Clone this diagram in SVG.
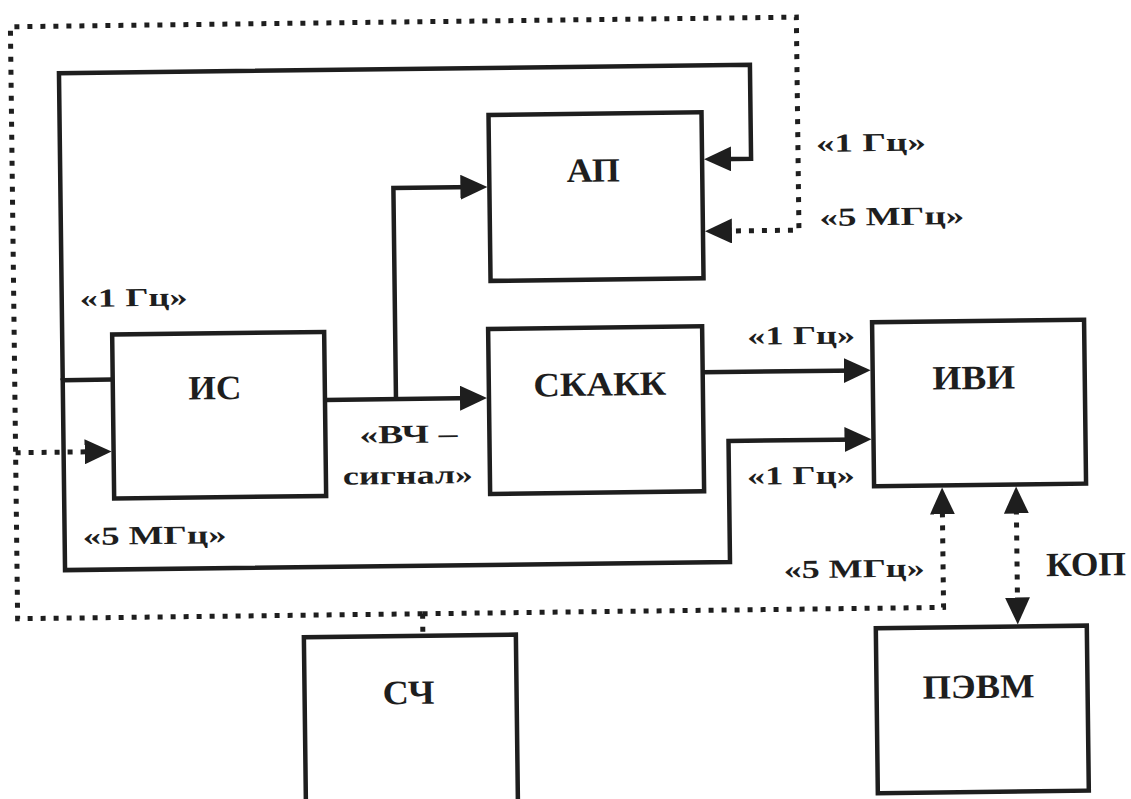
<svg xmlns="http://www.w3.org/2000/svg" width="1131" height="799" viewBox="0 0 1131 799">
<style>
.box{fill:#fff;stroke:#1e1e1e;stroke-width:4.5}
.sol{fill:none;stroke:#1e1e1e;stroke-width:4.5;stroke-linejoin:miter}
.dot{fill:none;stroke:#1e1e1e;stroke-width:5;stroke-dasharray:5 8}
.nl{font-family:"Liberation Serif","DejaVu Serif",serif;font-weight:bold;font-size:34px;fill:#1e1e1e;text-anchor:middle}
.lb{font-family:"Liberation Serif","DejaVu Serif",serif;font-weight:bold;font-size:26px;fill:#1e1e1e;text-anchor:middle}
</style>
<defs>
<marker id="ah" markerUnits="userSpaceOnUse" markerWidth="27" markerHeight="25" refX="17" refY="12.5" orient="auto-start-reverse">
<path d="M0,0 L27,12.5 L0,25 Z" fill="#1e1e1e" stroke="none"/>
</marker>
</defs>
<rect width="1131" height="799" fill="#fff"/>
<g transform="rotate(-0.7 565 400)">
<g id="connectors">
<path class="sol" d="M63,374 V67 H754 V161 H717" marker-end="url(#ah)"/>
<path class="sol" d="M63,372 V564 H728 V443 H861" marker-end="url(#ah)"/>
<path class="sol" d="M63,374 H113"/>
<path class="sol" d="M325,397 H477" marker-end="url(#ah)"/>
<path class="sol" d="M396,397 V186 H480" marker-end="url(#ah)"/>
<path class="sol" d="M703,374 H861" marker-end="url(#ah)"/>
<path class="dot" d="M420,612 H15 V20 H801 V233 H717" marker-end="url(#ah)"/>
<path class="dot" d="M15,446 H101" marker-end="url(#ah)"/>
<path class="dot" d="M420,612 H941 V502" marker-end="url(#ah)"/>
<path class="dot" d="M420,612 V634"/>
<path class="dot" d="M1015,502 V620" marker-start="url(#ah)" marker-end="url(#ah)"/>
</g>
<g id="node-ap"><rect class="box" x="492" y="114" width="213" height="166"/><text class="nl" x="596" y="182" textLength="53" lengthAdjust="spacingAndGlyphs">АП</text></g>
<g id="node-is"><rect class="box" x="113" y="329" width="212" height="164"/><text class="nl" x="215" y="395" textLength="53" lengthAdjust="spacingAndGlyphs">ИС</text></g>
<g id="node-skakk"><rect class="box" x="489" y="328" width="214" height="165"/><text class="nl" x="600" y="396" textLength="133" lengthAdjust="spacingAndGlyphs">СКАКК</text></g>
<g id="node-ivi"><rect class="box" x="873" y="326" width="212" height="164"/><text class="nl" x="974" y="394" textLength="83" lengthAdjust="spacingAndGlyphs">ИВИ</text></g>
<g id="node-sch"><rect class="box" x="301" y="634" width="212" height="200"/><text class="nl" x="405" y="702" textLength="52" lengthAdjust="spacingAndGlyphs">СЧ</text></g>
<g id="node-pevm"><rect class="box" x="873" y="632" width="211" height="165"/><text class="nl" x="975" y="703" textLength="112" lengthAdjust="spacingAndGlyphs">ПЭВМ</text></g>
<g id="labels">
<text class="lb" x="135" y="301" textLength="108" lengthAdjust="spacingAndGlyphs">«1 Гц»</text>
<text class="lb" x="153" y="539" textLength="144" lengthAdjust="spacingAndGlyphs">«5 МГц»</text>
<text class="lb" x="408" y="441" textLength="98" lengthAdjust="spacingAndGlyphs">«ВЧ –</text>
<text class="lb" x="407" y="482" textLength="130" lengthAdjust="spacingAndGlyphs">сигнал»</text>
<text class="lb" x="874" y="155" textLength="110" lengthAdjust="spacingAndGlyphs">«1 Гц»</text>
<text class="lb" x="894" y="229" textLength="145" lengthAdjust="spacingAndGlyphs">«5 МГц»</text>
<text class="lb" x="802" y="347" textLength="108" lengthAdjust="spacingAndGlyphs">«1 Гц»</text>
<text class="lb" x="800" y="487" textLength="108" lengthAdjust="spacingAndGlyphs">«1 Гц»</text>
<text class="lb" x="852" y="581" textLength="141" lengthAdjust="spacingAndGlyphs">«5 МГц»</text>
<text class="nl" x="1084" y="582" textLength="80" lengthAdjust="spacingAndGlyphs">КОП</text>
</g>
</g>
</svg>
